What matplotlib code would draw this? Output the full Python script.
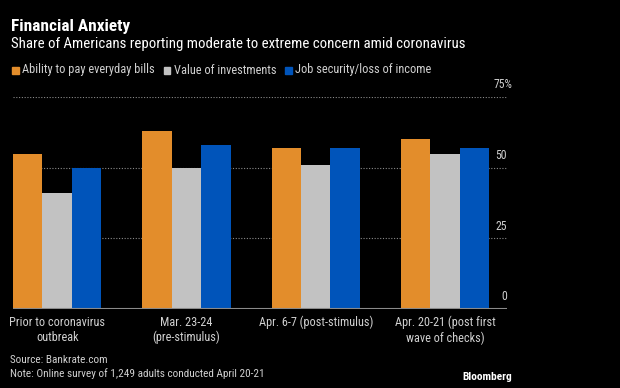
import matplotlib
matplotlib.use("Agg")
import matplotlib.pyplot as plt
import numpy as np
from matplotlib import font_manager

# Data (percent)
categories = ["Prior to coronavirus\noutbreak", "Mar. 23-24\n(pre-stimulus)",
              "Apr. 6-7 (post-stimulus)", "Apr. 20-21 (post first\nwave of checks)"]
series_names = ["Ability to pay everyday bills", "Value of investments", "Job security/loss of income"]
bills = [55, 63, 57, 60]
investments = [41, 50, 51, 55]
job_security = [50, 58, 57, 57]
y_ticks = [0, 25, 50, 75]

colors = ["#E38D2B", "#C2C2C2", "#0054BA"]
BG = "#000000"
TXT = "#D0D0D0"

names = {f.name for f in font_manager.fontManager.ttflist}
family = "DejaVu Sans"
for cand in ["Roboto Condensed", "PT Sans Narrow", "Fira Sans Condensed",
             "Liberation Sans Narrow", "Barlow Semi Condensed", "Sofia Sans Semi Condensed"]:
    if cand in names:
        family = cand
        break
plt.rcParams["font.family"] = [family, "DejaVu Sans"]

W, H = 620, 388
fig = plt.figure(figsize=(W / 100, H / 100), dpi=100, facecolor=BG)


def px(x0, y0, x1, y1):
    return [x0 / W, 1 - y1 / H, (x1 - x0) / W, (y1 - y0) / H]


ax = fig.add_axes(px(13, 97, 507, 309))
ax.set_facecolor(BG)

x = np.arange(len(categories))
bw = 0.228
for i, (vals, c) in enumerate(zip([bills, investments, job_security], colors)):
    ax.bar(x + (i - 1) * bw, vals, width=bw, color=c, zorder=2, linewidth=0)

ax.set_xlim(-0.342, 3.48)
ax.set_ylim(0, 75)

for t in y_ticks[1:]:
    ax.axhline(t, color="#8A8A8A", linewidth=0.8, linestyle=(0, (1, 1.5)), zorder=1)
ax.axhline(0, color="#8A8A8A", linewidth=1.5, zorder=3)

for t in y_ticks:
    lab = f"{t}%" if t == 75 else str(t)
    xpos = 1.01 if t == 75 else 1.0
    ax.annotate(lab, xy=(xpos, t), xycoords=("axes fraction", "data"),
                xytext=(0, 4), textcoords="offset points",
                ha="right", va="bottom", color=TXT, fontsize=8.5, annotation_clip=False)

for xi, cat in zip(x, categories):
    ax.annotate(cat, xy=(xi, 0), xycoords="data", xytext=(0, -5), textcoords="offset points",
                ha="center", va="top", color=TXT, fontsize=8.8, linespacing=1.2,
                annotation_clip=False)

for s in ax.spines.values():
    s.set_visible(False)
ax.set_xticks([])
ax.set_yticks([])

# Titles
fig.text(11 / W, 1 - 26 / H, "Financial Anxiety", color="white", fontsize=12.4,
         fontweight="bold", va="center", ha="left")
fig.text(11 / W, 1 - 44 / H, "Share of Americans reporting moderate to extreme concern amid coronavirus",
         color="white", fontsize=10.7, va="center", ha="left")

# Legend
lx = 12
for name, c in zip(series_names, colors):
    fig.patches.append(plt.Rectangle((lx / W, 1 - 73.5 / H), 6.5 / W, 6.5 / H, color=c,
                                     transform=fig.transFigure, figure=fig))
    t = fig.text((lx + 10) / W, 1 - 70 / H, name, color=TXT, fontsize=8.9, va="center", ha="left")
    fig.canvas.draw()
    bb = t.get_window_extent()
    lx = bb.x1 + 9

fig.text(10 / W, 1 - 360 / H, "Source: Bankrate.com", color=TXT, fontsize=8.1, va="center")
fig.text(10 / W, 1 - 374 / H, "Note: Online survey of 1,249 adults conducted April 20-21",
         color=TXT, fontsize=8.1, va="center")
fig.text(512 / W, 1 - 377 / H, "Bloomberg", color="white", fontsize=8.2, fontweight="bold",
         va="center", ha="right")

fig.savefig("out.png", dpi=100, facecolor=BG)
